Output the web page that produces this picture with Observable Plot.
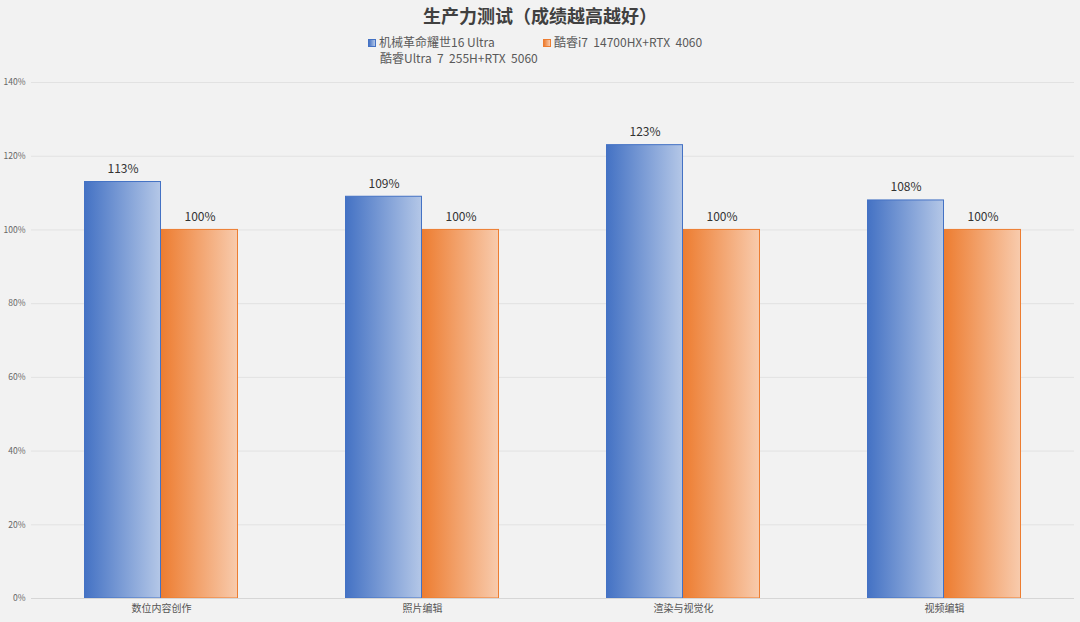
<!DOCTYPE html>
<html>
<head>
<meta charset="utf-8">
<script src="https://cdn.jsdelivr.net/npm/d3@7"></script>
<script src="https://cdn.jsdelivr.net/npm/@observablehq/plot@0.6"></script>
<style>
  html, body { margin: 0; padding: 0; background: #f2f2f2; }
  body { width: 1080px; height: 622px; overflow: hidden; font-family: "Noto Sans CJK SC", "Noto Sans", sans-serif; }
  #header { position: relative; width: 1080px; height: 66px; }
  #title { position: absolute; left: 0; width: 1080px; top: 3px; text-align: center; font-size: 18px; font-weight: bold; color: #404040; line-height: 24px; }
  .leg { position: absolute; font-size: 12px; color: #595959; line-height: 14px; white-space: pre; }
  .sw { display: inline-block; width: 8px; height: 8px; margin-right: 3px; vertical-align: 0px; box-sizing: border-box; }
  #chart svg { display: block; }
</style>
</head>
<body>
<div id="header">
  <div id="title"></div>
  <div class="leg" id="leg0" style="left:368px; top:35px;"></div>
  <div class="leg" id="leg1" style="left:543px; top:35px;"></div>
  <div class="leg" id="leg2" style="left:380px; top:51px;"></div>
</div>
<div id="chart"></div>
<script>
const titleText = "生产力测试（成绩越高越好）";
const categories = ["数位内容创作", "照片编辑", "渲染与视觉化", "视频编辑"];
const seriesNames = ["机械革命耀世16 Ultra", "酷睿i7  14700HX+RTX  4060", "酷睿Ultra  7  255H+RTX  5060"];
const series1Values = [113, 109, 123, 108];
const series2Values = [100, 100, 100, 100];
const yTicks = [0, 20, 40, 60, 80, 100, 120, 140];

document.getElementById("title").textContent = titleText;
const swatches = [
  "background: linear-gradient(to right, #4472c4, #b4c7e7); border: 1px solid #4472c4;",
  "background: linear-gradient(to right, #ed7d31, #f8cbad); border: 1px solid #ed7d31;",
  null
];
seriesNames.forEach((n, i) => {
  const el = document.getElementById("leg" + i);
  if (swatches[i]) {
    const s = document.createElement("span");
    s.className = "sw";
    s.style.cssText = swatches[i];
    el.appendChild(s);
  }
  el.appendChild(document.createTextNode(n));
});

const data1 = categories.map((c, i) => ({cat: c, v: series1Values[i]}));
const data2 = categories.map((c, i) => ({cat: c, v: series2Values[i]}));

// half of the band width (band = 154px within a 261px step)
const half = 77;

const plot = Plot.plot({
  width: 1080,
  height: 556,
  marginTop: 16,
  marginBottom: 24,
  marginLeft: 31,
  marginRight: 6,
  style: { background: "#f2f2f2", fontFamily: "'Noto Sans CJK SC', 'Noto Sans', sans-serif" },
  x: { domain: categories, paddingInner: 0.41, paddingOuter: 0.2, label: null },
  y: { domain: [0, 140], label: null },
  marks: [
    Plot.gridY(yTicks.filter(d => d > 0), { stroke: "#e2e2e2", strokeOpacity: 1 }),
    Plot.barY(data1, { x: "cat", y: "v", fill: "url(#gBlue)", stroke: "#4472c4", strokeWidth: 1, insetLeft: 0.5, insetRight: half + 0.5 }),
    Plot.barY(data2, { x: "cat", y: "v", fill: "url(#gOrange)", stroke: "#ed7d31", strokeWidth: 1, insetLeft: half + 0.5, insetRight: 0.5 }),
    Plot.text(data1, { x: "cat", y: "v", text: d => d.v + "%", dx: -half / 2, dy: -13, fontSize: 12, fill: "#333" }),
    Plot.text(data2, { x: "cat", y: "v", text: d => d.v + "%", dx: half / 2, dy: -13, fontSize: 12, fill: "#333" }),
    Plot.axisY({ ticks: yTicks, tickFormat: d => d + "%", tickSize: 0, tickPadding: 6, fontSize: 8.5, color: "#666", label: null }),
    Plot.axisX({ tickSize: 0, tickPadding: 6, fontSize: 10, color: "#555", label: null }),
    Plot.ruleY([0], { stroke: "#d6d6d6", strokeWidth: 1 })
  ]
});

const ns = "http://www.w3.org/2000/svg";
const defs = document.createElementNS(ns, "defs");
function grad(id, c1, c2) {
  const g = document.createElementNS(ns, "linearGradient");
  g.setAttribute("id", id);
  g.setAttribute("x1", "0"); g.setAttribute("x2", "1"); g.setAttribute("y1", "0"); g.setAttribute("y2", "0");
  [[0, c1], [1, c2]].forEach(([o, c]) => {
    const s = document.createElementNS(ns, "stop");
    s.setAttribute("offset", o);
    s.setAttribute("stop-color", c);
    g.appendChild(s);
  });
  defs.appendChild(g);
}
grad("gBlue", "#4472c4", "#b4c7e7");
grad("gOrange", "#ed7d31", "#f8cbad");
plot.insertBefore(defs, plot.firstChild);
document.getElementById("chart").appendChild(plot);
</script>
</body>
</html>
